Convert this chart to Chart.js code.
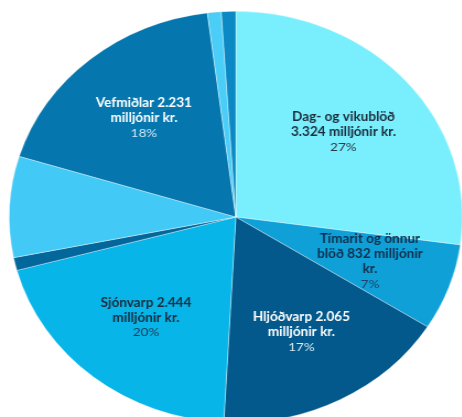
<!DOCTYPE html>
<html>
<head>
<meta charset="utf-8">
<script src="https://cdn.jsdelivr.net/npm/chart.js@4/dist/chart.umd.min.js"></script>
<style>
  html, body { margin: 0; padding: 0; width: 462px; height: 417px; overflow: hidden; background: #fff; }
  /* the reference pie is an ellipse, so the whole chart is stretched sideways */
  #wrap { position: absolute; left: 0; top: 0; width: 428px; height: 434px; transform: scaleX(1.102); transform-origin: 0 0; }
</style>
</head>
<body>
<div id="wrap"><canvas id="myChart"></canvas></div>
<script>
// auglýsingatekjur eftir miðlum, milljónir kr.
const categories = [
  "Dag- og vikublöð",
  "Tímarit og önnur blöð",
  "Hljóðvarp",
  "Sjónvarp",
  "Kvikmyndahús",
  "Útiauglýsingar",
  "Vefmiðlar",
  "Annað",
  "Óflokkað",
];
const values = [3324, 832, 2065, 2444, 124, 970, 2231, 120, 125];
// name used in the slice label, null = no label on the slice
const labelNames = ["Dag- og vikublöð", "Tímarit og önnur blöð", "Hljóðvarp", "Sjónvarp", null, null, "Vefmiðlar", null, null];
const sliceColors = ["#79effd", "#0fa0d8", "#03598b", "#07b5e9", "#04679b", "#43c9f6", "#0677ae", "#4acef7", "#0a89c4"];
const textColors = ["#1c2b3b", "#102f4c", "#ffffff", "#1c2b3b", null, null, "#ffffff", null, null];
const pctColors = ["#2a3744", "#1d4466", "#d6ecf7", "#1f3a52", null, null, "#cfe8f5", null, null];

const total = values.reduce((a, b) => a + b, 0);

function fmt(n) {
  return String(n).replace(/\B(?=(\d{3})+(?!\d))/g, ".");
}

function wrap(ctx, text, maxWidth) {
  const words = text.split(" ");
  const lines = [];
  let line = "";
  words.forEach((w) => {
    const test = line ? line + " " + w : w;
    if (line && ctx.measureText(test).width > maxWidth) {
      lines.push(line);
      line = w;
    } else {
      line = test;
    }
  });
  if (line) lines.push(line);
  return lines;
}

const sliceLabels = {
  id: "sliceLabels",
  afterDatasetsDraw(chart) {
    const ctx = chart.ctx;
    const arcs = chart.getDatasetMeta(0).data;
    ctx.save();
    ctx.textAlign = "center";
    ctx.textBaseline = "middle";
    arcs.forEach((arc, i) => {
      if (!labelNames[i]) return;
      const p = arc.getProps(["x", "y", "startAngle", "endAngle", "outerRadius"], true);
      const mid = (p.startAngle + p.endAngle) / 2;
      const r = p.outerRadius * 0.63;
      const cx = p.x + Math.cos(mid) * r;
      const cy = p.y + Math.sin(mid) * r;
      ctx.font = "bold 12.3px Lato";
      const lines = wrap(ctx, labelNames[i] + " " + fmt(values[i]) + " milljónir kr.", 108);
      const pct = Math.round((values[i] / total) * 100) + "%";
      const lh = 14.8;
      const n = lines.length + 1;
      let y = cy - ((n - 1) * lh) / 2;
      ctx.fillStyle = textColors[i];
      lines.forEach((l) => {
        ctx.fillText(l, cx, y);
        y += lh;
      });
      ctx.font = "12.3px Lato";
      ctx.fillStyle = pctColors[i];
      ctx.fillText(pct, cx, y);
    });
    ctx.restore();
  },
};

var ctx = document.getElementById("myChart");

new Chart(ctx, {
  type: "pie",
  data: {
    labels: categories,
    datasets: [
      {
        data: values,
        backgroundColor: sliceColors,
        borderColor: "rgba(255,255,255,0.6)",
        borderWidth: 0.6,
      },
    ],
  },
  options: {
    responsive: true,
    maintainAspectRatio: false,
    animation: false,
    layout: { padding: { left: 8, right: 8, top: 11, bottom: 11 } },
    plugins: {
      legend: { display: false },
      tooltip: { enabled: false },
    },
  },
  plugins: [sliceLabels],
});
</script>
</body>
</html>
